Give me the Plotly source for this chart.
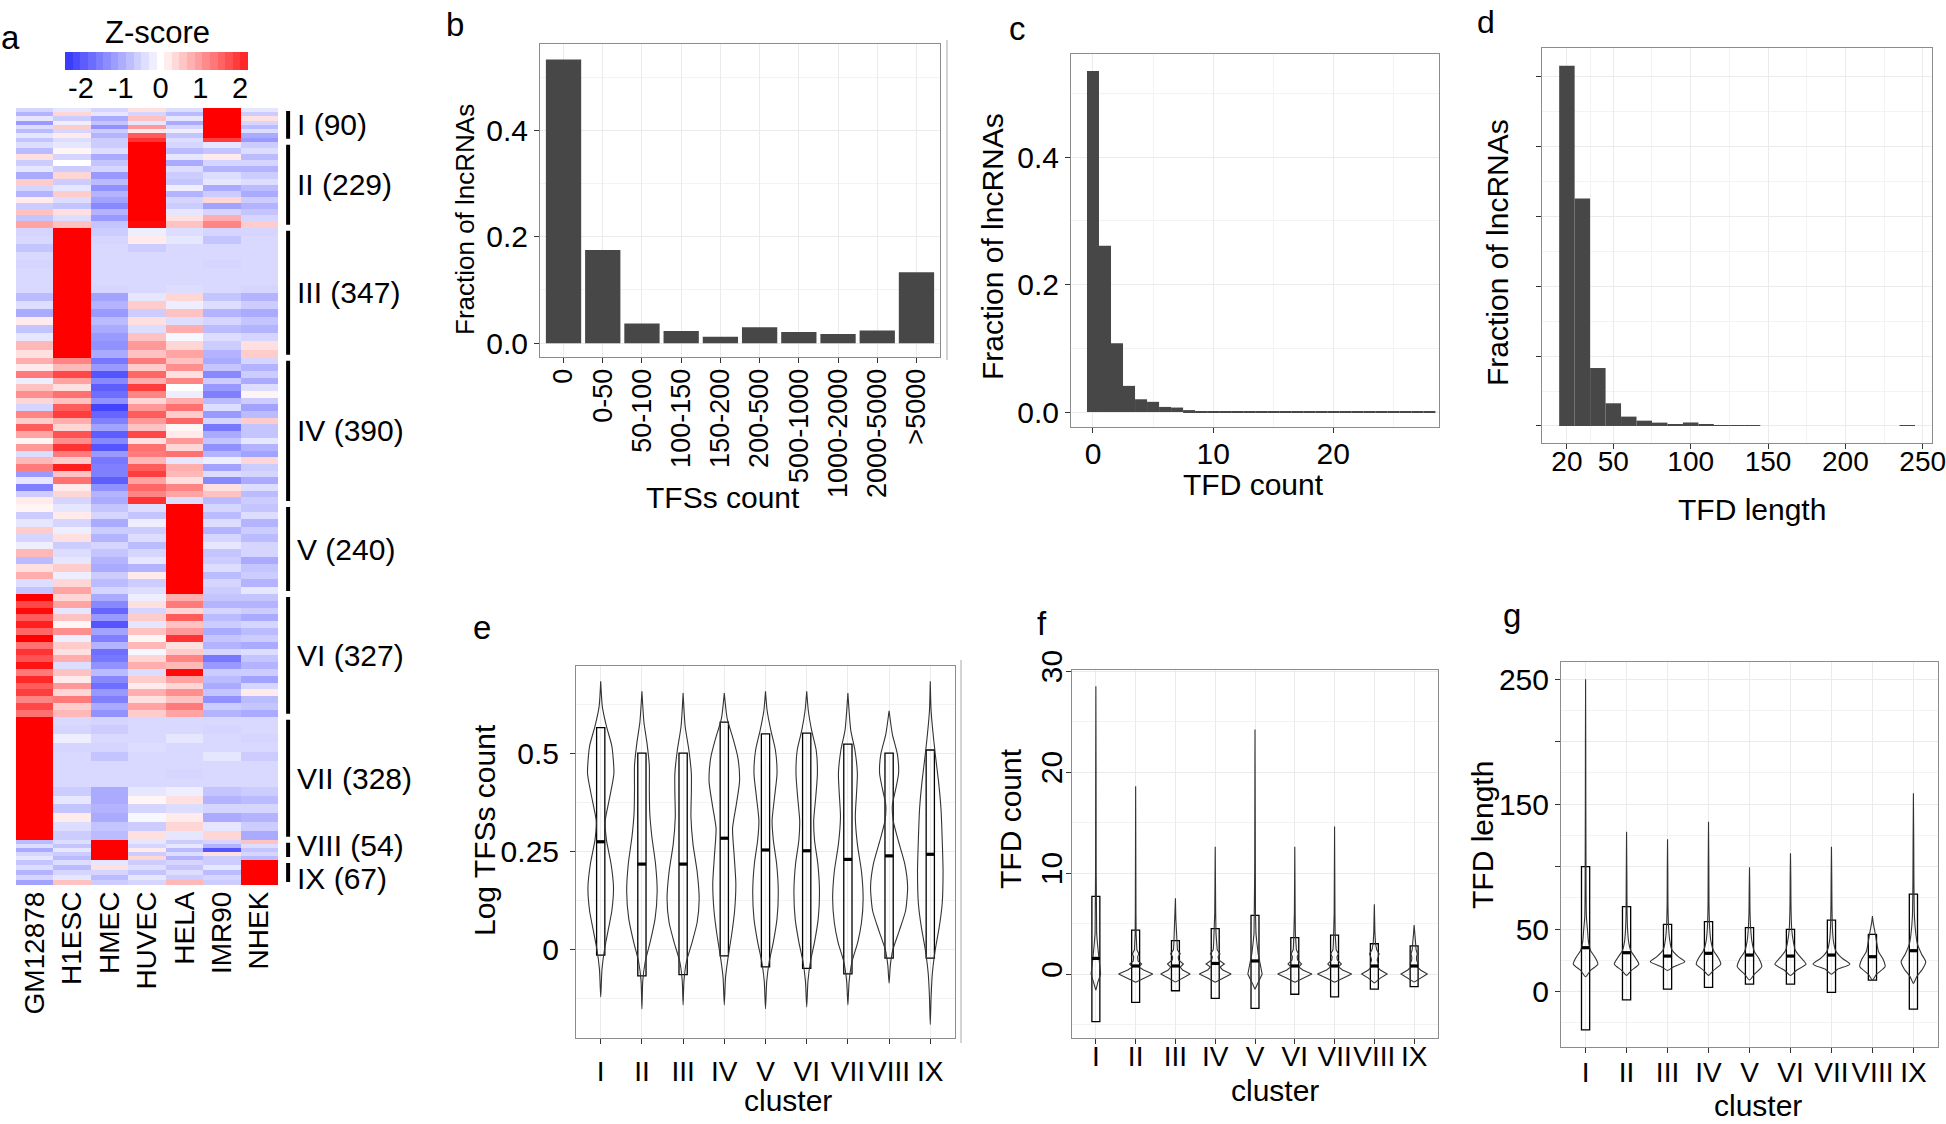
import numpy as np
import plotly.graph_objects as go

W, H = 1946, 1124
FONT = "Liberation Sans, Arial, Helvetica, sans-serif"

# ---------------- Panel a : z-score heatmap ----------------
cell_lines = ["GM12878", "H1ESC", "HMEC", "HUVEC", "HELA", "IMR90", "NHEK"]
cluster_names = ["I", "II", "III", "IV", "V", "VI", "VII", "VIII", "IX"]
cluster_sizes = [90, 229, 347, 390, 240, 327, 328, 54, 67]
# row bands (top to bottom) inside each cluster; columns follow cell_lines
z_I = [[-0.5, -0.3, -0.5, 0.3, -0.4, 3, -0.3],
       [-0.9, 0.4, -0.3, -0.5, -0.8, 3, -0.6],
       [-0.3, -0.6, -1.0, 0.6, -0.3, 3, 0.3],
       [-1.2, -0.2, -0.7, -0.3, -1.0, 3, -0.5],
       [-0.4, 0.5, -1.3, 1.0, -0.5, 3, -0.8],
       [-0.8, -0.5, -0.6, 0.2, -0.2, 3, -0.4],
       [-0.3, 0.2, -0.9, 1.6, -0.7, 2.6, -1.0],
       [-0.7, -0.4, -0.6, 2.0, -0.4, 1.9, -1.2]]
z_II = [[-0.4, -0.3, -0.6, 3, -0.5, -0.3, -0.6],
        [-0.8, 0.1, -0.4, 3, -0.8, -0.7, -0.4],
        [0.3, -0.5, -1.0, 3, -0.3, 0.2, -0.8],
        [-0.6, 0.0, -0.7, 3, -1.0, -0.5, -0.5],
        [-0.3, -0.6, -0.5, 3, -0.4, -0.9, -0.9],
        [-1.0, 0.4, -1.2, 3, -0.6, -0.4, -0.6],
        [0.5, -0.6, -0.8, 3, -0.7, -0.3, -0.4],
        [-0.5, -0.3, -1.3, 3, -0.2, -1.0, -0.8],
        [-0.9, 0.5, -0.9, 3, -0.9, -0.6, -1.0],
        [0.2, -0.4, -1.1, 3, -0.5, 0.4, -0.6],
        [-0.6, -0.7, -1.4, 3, -0.6, -1.1, -0.9],
        [0.6, 0.3, -0.9, 3, -0.3, -0.5, -0.7],
        [-0.7, -0.4, -1.2, 3, 0.3, 0.8, -0.5],
        [0.9, 0.6, -0.7, 2.4, 0.6, 1.2, 0.5]]
z_III = [[-0.5, 3, -0.6, -0.2, -0.4, -0.5, -0.5],
         [-0.45, 3, -0.5, 0.2, -0.3, -0.7, -0.45],
         [-0.7, 3, -0.45, -0.6, -0.45, -0.45, -0.45],
         [-0.45, 3, -0.45, -0.45, -0.45, -0.45, -0.45],
         [-0.5, 3, -0.45, -0.45, -0.45, -0.5, -0.45],
         [-0.45, 3, -0.45, -0.45, -0.45, -0.45, -0.45],
         [-0.45, 3, -0.45, -0.45, -0.45, -0.45, -0.45],
         [-0.45, 3, -0.5, -0.45, -0.4, -0.45, -0.5],
         [-0.8, 3, -1.1, -0.3, 0.4, -0.7, -0.9],
         [-0.4, 3, -0.9, 0.5, -0.2, -0.4, -0.6],
         [-1.0, 3, -1.2, -0.6, 0.6, -0.9, -1.0],
         [0.2, 3, -0.8, 0.3, -0.4, -0.5, -0.7],
         [-0.7, 3, -1.0, -0.4, 0.8, -0.8, -0.9],
         [-0.3, 3, -1.2, 0.6, -0.1, -0.4, -0.5],
         [0.7, 3, -1.3, 1.0, 0.4, -0.6, 0.3],
         [0.3, 2.5, -1.0, 0.6, 0.9, -0.9, 0.5]]
z_IV = [[0.8, 1.2, -1.6, 1.3, 0.6, -1.0, -0.5],
        [0.2, 0.7, -1.2, 0.5, 1.1, -0.7, -0.9],
        [1.3, 1.8, -2.0, 1.5, 0.3, -1.4, -0.6],
        [-0.2, 0.9, -1.4, 0.8, 1.2, -0.6, -1.0],
        [0.6, 0.3, -1.9, 1.9, 0.0, -1.2, -0.4],
        [1.1, 1.4, -1.7, 1.2, -0.2, -1.5, 0.1],
        [0.4, 0.6, -1.3, 0.4, 0.8, -0.8, -0.6],
        [-0.5, 1.6, -2.2, 1.0, 1.4, -0.4, -1.1],
        [1.2, 1.9, -1.8, 1.6, 0.5, -1.2, -0.8],
        [0.5, 0.8, -1.5, 1.0, 1.5, -0.5, 0.5],
        [1.6, 0.4, -1.1, 0.6, 0.1, -1.6, -0.7],
        [0.9, 1.7, -1.9, 1.8, 0.2, -1.0, -0.7],
        [0.1, 1.1, -1.4, 0.3, 1.0, -0.7, -0.3],
        [1.0, 2.0, -2.0, 1.4, 0.4, -1.3, -0.9],
        [-0.4, 1.3, -1.2, 1.3, 1.4, -0.9, -1.1],
        [0.7, 0.5, -1.6, 0.7, -0.3, -0.2, 0.4],
        [1.3, 2.2, -1.5, 1.6, 0.8, -1.1, -0.6],
        [-1.2, 0.6, -1.5, 1.9, 0.7, -0.4, -0.5],
        [-0.3, 1.4, -1.9, 0.9, 0.3, -1.4, -1.0],
        [-1.5, 0.2, -1.3, 1.5, 1.2, 0.3, -0.4],
        [-0.6, 0.4, -0.9, 1.2, 0.9, 0.6, -0.8],
        [0.2, -0.5, -1.0, 2.0, -0.4, -0.8, -0.6]]
z_V = [[0.1, -0.3, -0.7, -0.4, 3, -0.5, -0.7],
       [-0.6, 0.2, -0.5, -0.7, 3, -0.8, -0.4],
       [-0.3, -0.5, -1.0, -0.2, 3, -0.4, -0.9],
       [0.5, -0.2, -0.6, -0.6, 3, -0.9, -0.6],
       [-0.5, 0.3, -0.9, -0.4, 3, -0.5, -0.8],
       [-0.2, -0.6, -0.5, -0.8, 3, -0.3, -0.5],
       [0.7, -0.4, -0.7, -0.5, 3, -0.7, -0.5],
       [-0.8, -0.3, -0.9, -0.3, 3, -0.6, -1.0],
       [0.3, 0.5, -1.0, -0.9, 3, -0.4, -0.7],
       [0.8, -0.2, -0.6, 0.2, 3, -0.8, -0.6],
       [-0.4, 0.4, -0.8, -0.6, 3, -0.5, -0.9],
       [-0.7, 0.9, -0.5, -0.4, 2.7, -0.6, -0.3]]
z_VI = [[2.6, 0.4, -1.0, -0.2, 0.8, -0.7, -0.7],
        [1.8, 0.9, -1.4, 0.3, 1.3, -0.9, -0.9],
        [2.4, -0.3, -1.8, -0.5, 0.4, -0.5, -0.6],
        [1.6, 0.6, -1.2, 0.5, 1.6, -0.8, -1.0],
        [2.2, 0.1, -2.0, -0.3, 0.6, -0.6, -0.5],
        [1.5, 1.1, -1.1, 0.6, 1.0, -1.0, -0.8],
        [2.5, -0.2, -1.5, 0.1, 2.0, -0.7, -0.6],
        [1.4, 0.5, -0.9, 0.7, 0.3, -0.9, -1.0],
        [2.0, 0.3, -1.7, -0.1, 0.5, -0.5, -0.4],
        [1.7, 0.8, -1.6, 0.4, 1.2, -1.6, -0.7],
        [2.3, -0.4, -1.3, 0.8, 0.7, -1.2, -0.9],
        [1.3, 0.6, -0.8, -0.4, 2.4, -0.6, -0.6],
        [2.1, 0.2, -1.4, 0.5, 0.9, -0.8, -1.1],
        [1.6, 1.0, -1.7, 0.2, 0.4, -1.0, -0.5],
        [1.9, 0.4, -1.2, 0.8, 1.1, -0.7, 0.2],
        [1.2, 1.3, -1.5, 0.3, 0.6, -1.3, -0.8],
        [1.8, 0.5, -1.0, 0.9, 1.3, -0.6, -0.7],
        [1.4, 0.7, -1.3, 0.5, 0.9, -0.9, -1.0]]
z_VII = [[3, -0.45, -0.5, -0.45, -0.45, -0.45, -0.45],
         [3, -0.5, -0.6, -0.45, -0.45, -0.5, -0.45],
         [3, -0.2, -0.45, -0.45, -0.3, -0.45, -0.5],
         [3, -0.5, -0.5, -0.4, -0.45, -0.45, -0.45],
         [3, -0.45, -0.7, -0.45, -0.45, -0.3, -0.6],
         [3, -0.45, -0.45, -0.45, -0.45, -0.45, -0.45],
         [3, -0.45, -0.45, -0.45, -0.5, -0.45, -0.45],
         [3, -0.45, -0.45, -0.45, -0.45, -0.45, -0.45],
         [3, -0.6, -1.0, -0.3, -0.2, -0.7, -0.6],
         [3, -0.3, -1.0, 0.1, 0.3, -0.9, -0.8],
         [3, -0.7, -0.9, -0.5, -0.4, -0.5, -0.5],
         [3, 0.2, -1.0, -0.1, 0.2, -1.0, -0.9],
         [3, -0.4, -0.7, -0.6, 0.4, -0.3, -0.6],
         [3, -0.6, -0.8, 0.3, -0.3, 0.4, -1.0]]
z_VIII = [[-0.8, -0.4, 3, -0.3, -0.6, -0.5, 0.6],
          [-0.4, -0.7, 3, -0.5, -0.3, -0.9, -0.4],
          [-1.0, -0.3, 3, 0.2, -0.8, -2.0, -0.7],
          [-0.5, -0.6, 3, -0.6, -0.4, 0.3, -0.5],
          [-0.3, -0.8, 3, 0.4, -0.9, -0.6, -0.8]]
z_IX = [[-0.7, -0.4, -0.3, -0.6, -0.5, -0.6, 3],
        [-0.4, -0.8, 0.3, -0.4, -0.7, -0.3, 3],
        [-0.9, -0.5, -0.5, -0.7, -0.4, -0.8, 3],
        [-0.5, -0.3, -0.8, -0.3, -0.6, -0.5, 3],
        [-1.1, 0.6, -0.6, -0.5, 0.7, -0.6, 3]]
zscore_ticks = [-2, -1, 0, 1, 2]

# ---------------- Panel b ----------------
tfs_bins = ["0", "0-50", "50-100", "100-150", "150-200", "200-500",
            "500-1000", "1000-2000", "2000-5000", ">5000"]
tfs_fraction = [0.533, 0.175, 0.037, 0.023, 0.012, 0.030, 0.021, 0.017, 0.024, 0.133]

# ---------------- Panel c ----------------
tfd_count = [0, 1, 2, 3, 4, 5, 6, 7, 8, 9, 10, 11, 12, 13, 14, 15, 16, 17, 18, 19,
             20, 21, 22, 23, 24, 25, 26, 27, 28]
tfd_count_fraction = [0.535, 0.261, 0.108, 0.041, 0.020, 0.016, 0.008, 0.007, 0.003, 0.0012,
                      0.001, 0.0008, 0.0015, 0.0005, 0.0003, 0.0003, 0.0002, 0.0002, 0.0005, 0.0003,
                      0.0002, 0.0001, 0.0001, 0.0002, 0.0004, 0.0001, 0.0001, 0.0002, 0.0004]

# ---------------- Panel d ----------------
tfd_length = [20, 30, 40, 50, 60, 70, 80, 90, 100, 110, 120, 130, 140, 150, 160,
              170, 180, 190, 200, 210, 220, 230, 240]
tfd_length_fraction = [0.516, 0.326, 0.083, 0.0325, 0.0134, 0.0076, 0.0048, 0.0024, 0.005, 0.0025,
                       0.0008, 0.0008, 0.0006, 0, 0, 0, 0, 0, 0, 0, 0, 0, 0.0008]

# ---------------- Panels e, f, g (per cluster) ----------------
cluster_pos = [1, 2, 3, 4, 5, 6, 7, 8, 9]

e_q1 = [-0.013, -0.066, -0.063, -0.015, -0.043, -0.047, -0.061, -0.021, -0.021]
e_median = [0.276, 0.219, 0.219, 0.285, 0.255, 0.253, 0.231, 0.240, 0.244]
e_q3 = [0.567, 0.502, 0.502, 0.581, 0.551, 0.553, 0.525, 0.502, 0.510]
e_violin_y = [
    [-0.12, -0.05, 0.0, 0.05, 0.10, 0.16, 0.22, 0.28, 0.33, 0.38, 0.45, 0.52, 0.57, 0.62, 0.685],
    [-0.15, -0.08, -0.03, 0.02, 0.08, 0.15, 0.22, 0.29, 0.35, 0.41, 0.47, 0.53, 0.58, 0.66],
    [-0.14, -0.08, -0.03, 0.02, 0.07, 0.13, 0.20, 0.27, 0.34, 0.40, 0.45, 0.51, 0.57, 0.655],
    [-0.14, -0.07, -0.02, 0.04, 0.10, 0.17, 0.24, 0.31, 0.37, 0.43, 0.49, 0.54, 0.59, 0.655],
    [-0.15, -0.08, -0.03, 0.02, 0.08, 0.15, 0.22, 0.28, 0.33, 0.39, 0.45, 0.51, 0.56, 0.61, 0.66],
    [-0.145, -0.08, -0.03, 0.02, 0.08, 0.15, 0.22, 0.28, 0.33, 0.39, 0.45, 0.51, 0.56, 0.61, 0.66],
    [-0.14, -0.08, -0.03, 0.02, 0.07, 0.13, 0.20, 0.27, 0.34, 0.40, 0.45, 0.51, 0.56, 0.655],
    [-0.085, -0.04, 0.0, 0.05, 0.10, 0.16, 0.22, 0.28, 0.33, 0.37, 0.41, 0.45, 0.50, 0.55, 0.61],
    [-0.19, -0.12, -0.06, 0.0, 0.06, 0.12, 0.20, 0.28, 0.36, 0.43, 0.50, 0.56, 0.61, 0.685]]
e_violin_w = [
    [0.0, 0.03, 0.09, 0.18, 0.27, 0.31, 0.25, 0.14, 0.11, 0.20, 0.32, 0.27, 0.14, 0.04, 0.0],
    [0.0, 0.02, 0.08, 0.20, 0.32, 0.37, 0.33, 0.24, 0.19, 0.18, 0.18, 0.12, 0.05, 0.0],
    [0.0, 0.02, 0.08, 0.22, 0.34, 0.39, 0.34, 0.24, 0.19, 0.20, 0.20, 0.14, 0.05, 0.0],
    [0.0, 0.03, 0.09, 0.18, 0.25, 0.28, 0.24, 0.20, 0.29, 0.37, 0.33, 0.21, 0.07, 0.0],
    [0.0, 0.03, 0.09, 0.19, 0.28, 0.31, 0.27, 0.19, 0.16, 0.22, 0.28, 0.24, 0.13, 0.04, 0.0],
    [0.0, 0.03, 0.09, 0.19, 0.28, 0.31, 0.27, 0.19, 0.17, 0.22, 0.26, 0.23, 0.12, 0.04, 0.0],
    [0.0, 0.03, 0.10, 0.24, 0.33, 0.37, 0.33, 0.23, 0.18, 0.21, 0.23, 0.17, 0.07, 0.0],
    [0.0, 0.03, 0.09, 0.25, 0.40, 0.45, 0.38, 0.22, 0.10, 0.08, 0.16, 0.23, 0.20, 0.08, 0.0],
    [0.0, 0.02, 0.05, 0.12, 0.22, 0.29, 0.31, 0.29, 0.26, 0.20, 0.12, 0.06, 0.02, 0.0]]

f_q1 = [-4.7, -2.8, -1.65, -2.4, -3.4, -2.0, -2.25, -1.5, -1.25]
f_median = [1.55, 0.8, 0.8, 1.05, 1.3, 0.8, 0.8, 0.8, 0.8]
f_q3 = [7.7, 4.35, 3.3, 4.5, 5.8, 3.6, 3.85, 3.0, 2.8]
f_violin_y = [
    [-1.6, -0.8, 0, 1, 2, 3, 4, 6, 10, 20, 28.5],
    [-0.8, -0.4, 0, 0.4, 0.7, 1.0, 1.3, 1.7, 2.0, 2.4, 3, 4, 6, 10, 18.6],
    [-0.8, -0.4, 0, 0.4, 0.7, 1.0, 1.4, 1.7, 2.0, 2.4, 3, 4, 5.5, 7.5],
    [-0.8, -0.4, 0, 0.4, 0.7, 1.0, 1.4, 1.7, 2.0, 2.4, 3, 4, 6, 9, 12.6],
    [-1.5, -0.8, 0, 1, 2, 3, 4, 6, 10, 16, 24.2],
    [-0.8, -0.4, 0, 0.4, 0.7, 1.0, 1.4, 1.7, 2.0, 2.4, 3, 4, 6, 9, 12.6],
    [-0.8, -0.4, 0, 0.4, 0.7, 1.0, 1.4, 1.7, 2.0, 2.4, 3, 4, 6, 10, 14.6],
    [-0.9, -0.4, 0, 0.4, 0.7, 1.0, 1.4, 1.7, 2.0, 2.4, 3, 4, 5.5, 6.9],
    [-0.8, -0.4, 0, 0.4, 0.7, 1.0, 1.4, 1.7, 2.0, 2.4, 3, 4, 4.85]]
f_violin_w = [
    [0.0, 0.05, 0.12, 0.09, 0.06, 0.04, 0.02, 0.01, 0.008, 0.005, 0.0],
    [0.0, 0.2, 0.43, 0.2, 0.08, 0.15, 0.06, 0.05, 0.08, 0.03, 0.02, 0.012, 0.008, 0.005, 0.0],
    [0.0, 0.18, 0.37, 0.18, 0.12, 0.2, 0.08, 0.07, 0.12, 0.05, 0.04, 0.02, 0.01, 0.0],
    [0.0, 0.19, 0.40, 0.19, 0.12, 0.23, 0.09, 0.07, 0.12, 0.05, 0.04, 0.02, 0.012, 0.006, 0.0],
    [0.0, 0.08, 0.18, 0.13, 0.08, 0.05, 0.025, 0.012, 0.008, 0.005, 0.0],
    [0.0, 0.21, 0.43, 0.2, 0.1, 0.17, 0.07, 0.06, 0.09, 0.04, 0.03, 0.015, 0.01, 0.005, 0.0],
    [0.0, 0.21, 0.43, 0.2, 0.1, 0.17, 0.07, 0.06, 0.10, 0.04, 0.03, 0.015, 0.01, 0.005, 0.0],
    [0.0, 0.15, 0.32, 0.15, 0.08, 0.10, 0.07, 0.09, 0.12, 0.06, 0.03, 0.015, 0.008, 0.0],
    [0.0, 0.16, 0.33, 0.16, 0.08, 0.10, 0.06, 0.06, 0.08, 0.05, 0.04, 0.015, 0.0]]

g_q1 = [-30.6, -6.6, 2.1, 3.5, 6.1, 6.1, -0.5, 9.3, -14.0]
g_median = [35.2, 31.2, 28.5, 30.7, 29.3, 28.5, 29.3, 28.0, 32.8]
g_q3 = [100.0, 68.0, 53.9, 56.0, 51.2, 49.9, 57.3, 45.9, 78.1]
g_violin_y = [
    [12, 17, 22, 27, 33, 40, 48, 60, 80, 100, 150, 200, 250],
    [13, 17, 22, 27, 33, 40, 50, 65, 90, 128],
    [17, 20, 24, 28, 34, 42, 52, 70, 95, 122],
    [13, 17, 22, 27, 33, 40, 50, 70, 100, 136],
    [9.3, 14, 20, 26, 32, 40, 50, 65, 80, 99.5],
    [13, 17, 22, 27, 33, 40, 50, 70, 90, 110.7],
    [14, 18, 22, 27, 33, 40, 50, 70, 90, 116],
    [9.3, 14, 20, 26, 32, 40, 48, 55, 60.6],
    [6.7, 12, 18, 24, 30, 38, 46, 60, 90, 120, 158.7]]
g_violin_w = [
    [0, 0.12, 0.30, 0.24, 0.12, 0.07, 0.05, 0.02, 0.012, 0.01, 0.006, 0.004, 0],
    [0, 0.12, 0.30, 0.22, 0.10, 0.05, 0.025, 0.012, 0.008, 0],
    [0, 0.15, 0.42, 0.26, 0.10, 0.05, 0.025, 0.01, 0.007, 0],
    [0, 0.12, 0.30, 0.24, 0.12, 0.06, 0.03, 0.012, 0.008, 0],
    [0, 0.12, 0.30, 0.24, 0.12, 0.06, 0.03, 0.012, 0.008, 0],
    [0, 0.14, 0.38, 0.26, 0.12, 0.07, 0.03, 0.012, 0.008, 0],
    [0, 0.15, 0.45, 0.25, 0.10, 0.05, 0.025, 0.012, 0.008, 0],
    [0, 0.10, 0.31, 0.26, 0.15, 0.10, 0.06, 0.02, 0],
    [0, 0.08, 0.22, 0.30, 0.20, 0.10, 0.06, 0.025, 0.012, 0.008, 0]]

# ================= helpers =================
def dy(top, bottom):
    return [1 - bottom / H, 1 - top / H]


def px(x):
    return x / W


def py(y):
    return 1 - y / H


BAR = "#474747"
GRID = "#ebebeb"
MINOR = "#f3f3f3"
BORDER = "#8c8c8c"
TICKC = "#333333"
COLORSCALE = [[0.0, "#2b2bff"], [0.5, "#ffffff"], [1.0, "#ff0000"]]

fig = go.Figure()

# ---------- heatmap ----------
blocks = [z_I, z_II, z_III, z_IV, z_V, z_VI, z_VII, z_VIII, z_IX]
rows, yedges, start = [], [0.0], 0
for size, blk in zip(cluster_sizes, blocks):
    for k, seg in enumerate(blk):
        rows.append(seg)
        yedges.append(start + size * (k + 1) / len(blk))
    start += size
total_rows = start
ncol = len(cell_lines)
fig.add_trace(go.Heatmap(z=rows, x=list(range(ncol + 1)), y=yedges, colorscale=COLORSCALE,
                         zmin=-2.5, zmax=2.5, showscale=False, xaxis="x", yaxis="y",
                         hoverinfo="skip"))

# cluster bars and labels
bar_x = ncol + 0.27
lab_x = ncol + 0.46
label_shift = {"VIII": 4, "IX": -6}
bx, by = [], []
start = 0
for name, size in zip(cluster_names, cluster_sizes):
    gap = 8
    bx += [bar_x, bar_x, None]
    by += [start + gap, start + size - gap, None]
    fig.add_annotation(x=lab_x, y=start + size / 2, xref="x", yref="y", text=f"{name} ({size})",
                       showarrow=False, xanchor="left", yanchor="middle",
                       yshift=label_shift.get(name, 0),
                       font=dict(size=30, color="black", family=FONT))
    start += size
fig.add_trace(go.Scatter(x=bx, y=by, mode="lines", line=dict(color="black", width=4),
                         xaxis="x", yaxis="y", hoverinfo="skip", showlegend=False))

# colour key strip
cb_range = [-2.4, 2.2]
cb_edges = np.linspace(cb_range[0], cb_range[1], 25)
cb_mid = (cb_edges[:-1] + cb_edges[1:]) / 2
fig.add_trace(go.Heatmap(z=[cb_mid], x=cb_edges, y=[0, 1], colorscale=COLORSCALE, zmin=-2.5,
                         zmax=2.5, showscale=False, xaxis="x2", yaxis="y2", hoverinfo="skip"))

# ---------- panel b ----------
fig.add_trace(go.Bar(x=tfs_bins, y=tfs_fraction, marker=dict(color=BAR, line=dict(width=0)),
                     width=0.9, xaxis="x3", yaxis="y3", showlegend=False, hoverinfo="skip"))
# ---------- panel c ----------
fig.add_trace(go.Bar(x=tfd_count, y=tfd_count_fraction, marker=dict(color=BAR, line=dict(width=0)),
                     width=1, xaxis="x4", yaxis="y4", showlegend=False, hoverinfo="skip"))
# ---------- panel d ----------
fig.add_trace(go.Bar(x=tfd_length, y=tfd_length_fraction, marker=dict(color=BAR, line=dict(width=0)),
                     width=10, xaxis="x5", yaxis="y5", showlegend=False, hoverinfo="skip"))


# ---------- violins + boxes ----------
def add_violin_box(vy, vw, q1, med, q3, xa, ya, shape):
    for c, ys, ws in zip(cluster_pos, vy, vw):
        xs = [c + w for w in ws] + [c - w for w in ws[::-1]]
        yy = list(ys) + list(ys[::-1])
        fig.add_trace(go.Scatter(x=xs, y=yy, mode="lines",
                                 line=dict(color="#333333", width=1.1, shape=shape, smoothing=0.6),
                                 xaxis=xa, yaxis=ya, hoverinfo="skip", showlegend=False))
    fig.add_trace(go.Box(x=cluster_pos, q1=q1, median=med, q3=q3, lowerfence=q1, upperfence=q3,
                         width=0.2, whiskerwidth=0, fillcolor="rgba(0,0,0,0)",
                         line=dict(color="black", width=1.3), boxpoints=False,
                         xaxis=xa, yaxis=ya, hoverinfo="skip", showlegend=False))
    mx, my = [], []
    for c, m in zip(cluster_pos, med):
        mx += [c - 0.1, c + 0.1, None]
        my += [m, m, None]
    fig.add_trace(go.Scatter(x=mx, y=my, mode="lines", line=dict(color="black", width=3.2),
                             xaxis=xa, yaxis=ya, hoverinfo="skip", showlegend=False))


add_violin_box(e_violin_y, e_violin_w, e_q1, e_median, e_q3, "x6", "y6", "spline")
add_violin_box(f_violin_y, f_violin_w, f_q1, f_median, f_q3, "x7", "y7", "linear")
add_violin_box(g_violin_y, g_violin_w, g_q1, g_median, g_q3, "x8", "y8", "spline")

# ================= layout =================
TF = dict(size=30, color="black", family=FONT)
TFX = dict(size=28, color="black", family=FONT)


def gg(domain, rng, anchor, **kw):
    d = dict(domain=domain, range=rng, anchor=anchor, showline=True, mirror=True,
             linecolor=BORDER, linewidth=1, ticks="outside", ticklen=5, tickcolor=TICKC,
             tickwidth=1, showgrid=True, gridcolor=GRID, gridwidth=1, zeroline=False,
             tickfont=TF, fixedrange=True, automargin=False)
    d.update(kw)
    return d


roman = cluster_names
col_px = (278 - 16) / ncol
hm_xmax = 10.8

layout = dict(
    template="none",
    width=W, height=H, margin=dict(l=0, r=0, t=0, b=0, pad=0, autoexpand=False),
    paper_bgcolor="white", plot_bgcolor="white", showlegend=False,
    font=dict(family=FONT, color="black"),
    # heatmap
    xaxis=dict(domain=[16 / W, (16 + col_px * hm_xmax) / W], range=[0, hm_xmax], anchor="y",
               tickvals=[i + 0.5 for i in range(ncol)], ticktext=cell_lines, tickangle=-90,
               ticks="", showgrid=False, zeroline=False, showline=False, automargin=False,
               tickfont=dict(size=28, color="black", family=FONT), fixedrange=True),
    yaxis=dict(domain=dy(108, 885), range=[total_rows, 0], anchor="x", visible=False,
               automargin=False, fixedrange=True),
    # colour key
    xaxis2=dict(domain=[65 / W, 248 / W], range=cb_range, anchor="y2", tickvals=zscore_ticks,
                ticktext=[str(t) for t in zscore_ticks], ticks="", showgrid=False, zeroline=False,
                showline=False, automargin=False, tickangle=0, ticklabelstandoff=-2,
                tickfont=dict(size=29, color="black", family=FONT), fixedrange=True),
    yaxis2=dict(domain=dy(52, 70), range=[0, 1], anchor="x2", visible=False, automargin=False,
                fixedrange=True),
    # b
    xaxis3=gg([540 / W, 940 / W], [-0.6, 9.6], "y3", type="category", tickangle=-90,
              ticklabelstandoff=-5, tickfont=dict(size=27, color="black", family=FONT)),
    yaxis3=gg(dy(44, 357), [-0.026, 0.562], "x3", tickvals=[0, 0.2, 0.4],
              ticktext=["0.0", "0.2", "0.4"],
              minor=dict(tickvals=[0.1, 0.3, 0.5], showgrid=True, gridcolor=MINOR, ticks="")),
    # c
    xaxis4=gg([1071 / W, 1439 / W], [-1.83, 28.8], "y4", tickvals=[0, 10, 20], tickangle=0,
              ticklabelstandoff=-5,
              minor=dict(tickvals=[5, 15, 25], showgrid=True, gridcolor=MINOR, ticks="")),
    yaxis4=gg(dy(54, 427), [-0.0235, 0.5616], "x4", tickvals=[0, 0.2, 0.4],
              ticktext=["0.0", "0.2", "0.4"],
              minor=dict(tickvals=[0.1, 0.3, 0.5], showgrid=True, gridcolor=MINOR, ticks="")),
    # d
    xaxis5=gg([1542 / W, 1932 / W], [3.9, 256], "y5", tickvals=[20, 50, 100, 150, 200, 250],
              tickangle=0, ticklabelstandoff=-12, ticklabeloverflow="allow", tickfont=TFX,
              minor=dict(tickvals=[35, 75, 125, 175, 225], showgrid=True, gridcolor=MINOR, ticks="")),
    yaxis5=gg(dy(48, 443), [-0.0244, 0.5415], "x5", tickvals=[0, 0.1, 0.2, 0.3, 0.4, 0.5],
              showticklabels=False,
              minor=dict(tickvals=[0.05, 0.15, 0.25, 0.35, 0.45], showgrid=True, gridcolor=MINOR,
                         ticks="")),
    # e
    xaxis6=gg([576 / W, 955 / W], [0.4, 9.6], "y6", tickvals=cluster_pos, ticktext=roman,
              tickangle=0, ticklabelstandoff=3, tickfont=TFX),
    yaxis6=gg(dy(665.7, 1038), [-0.2245, 0.725], "x6", tickvals=[0, 0.25, 0.5],
              ticktext=["0", "0.25", "0.5"], ticklabelstandoff=5,
              minor=dict(tickvals=[-0.125, 0.125, 0.375, 0.625], showgrid=True, gridcolor=MINOR,
                         ticks="")),
    # f
    xaxis7=gg([1072 / W, 1438 / W], [0.4, 9.6], "y7", tickvals=cluster_pos, ticktext=roman,
              tickangle=0, ticklabelstandoff=-11, tickfont=TFX),
    yaxis7=gg(dy(670, 1037.7), [-6.3, 30.1], "x7", tickvals=[0, 10, 20, 30], tickangle=-90,
              ticklabelstandoff=-8,
              minor=dict(tickvals=[-5, 5, 15, 25], showgrid=True, gridcolor=MINOR, ticks="")),
    # g
    xaxis8=gg([1561 / W, 1938 / W], [0.4, 9.6], "y8", tickvals=cluster_pos, ticktext=roman,
              tickangle=0, ticklabelstandoff=-4, tickfont=TFX),
    yaxis8=gg(dy(661.7, 1046.7), [-44, 264], "x8", tickvals=[0, 50, 100, 150, 200, 250],
              ticktext=["0", "50", "", "150", "", "250"],
              minor=dict(tickvals=[-25, 25, 75, 125, 175, 225], showgrid=True, gridcolor=MINOR,
                         ticks="")),
)
fig.update_layout(**layout)


def note(text, x, y, size=30, angle=0, anchor="center"):
    fig.add_annotation(text=text, x=px(x), y=py(y), xref="paper", yref="paper", showarrow=False,
                       textangle=angle, xanchor=anchor, yanchor="middle",
                       font=dict(size=size, color="black", family=FONT))


# panel letters
note("a", 10, 37, 33)
note("b", 455, 25, 33)
note("c", 1018, 28, 33)
note("d", 1486, 22, 32)
note("e", 482, 627, 33)
note("f", 1042, 623, 33)
note("g", 1512, 615, 33)
note("Z-score", 157, 32, 31)
# axis titles
note("Fraction of lncRNAs", 465, 220, 26, -90)
note("TFSs count", 723, 497)
note("Fraction of lncRNAs", 992, 247, 30, -90)
note("TFD count", 1253, 485)
note("Fraction of lncRNAs", 1498, 253, 30, -90)
note("TFD length", 1752, 509)
note("Log TFSs count", 484, 830, 30, -90)
note("cluster", 788, 1100)
note("TFD count", 1010, 818, 30, -90)
note("cluster", 1275, 1090)
note("TFD length", 1482, 835, 30, -90)
note("cluster", 1758, 1105)

# faint leftover panel-edge lines of the original figure
for x0, y0, y1 in [(947, 40, 360), (961, 660, 1043)]:
    fig.add_shape(type="line", xref="paper", yref="paper", x0=px(x0), x1=px(x0), y0=py(y0),
                  y1=py(y1), line=dict(color="#d4d4d4", width=2))

fig.write_html("out.html", config=dict(displayModeBar=False),
               post_script="document.body.style.margin='0';document.body.style.overflow='hidden';")
